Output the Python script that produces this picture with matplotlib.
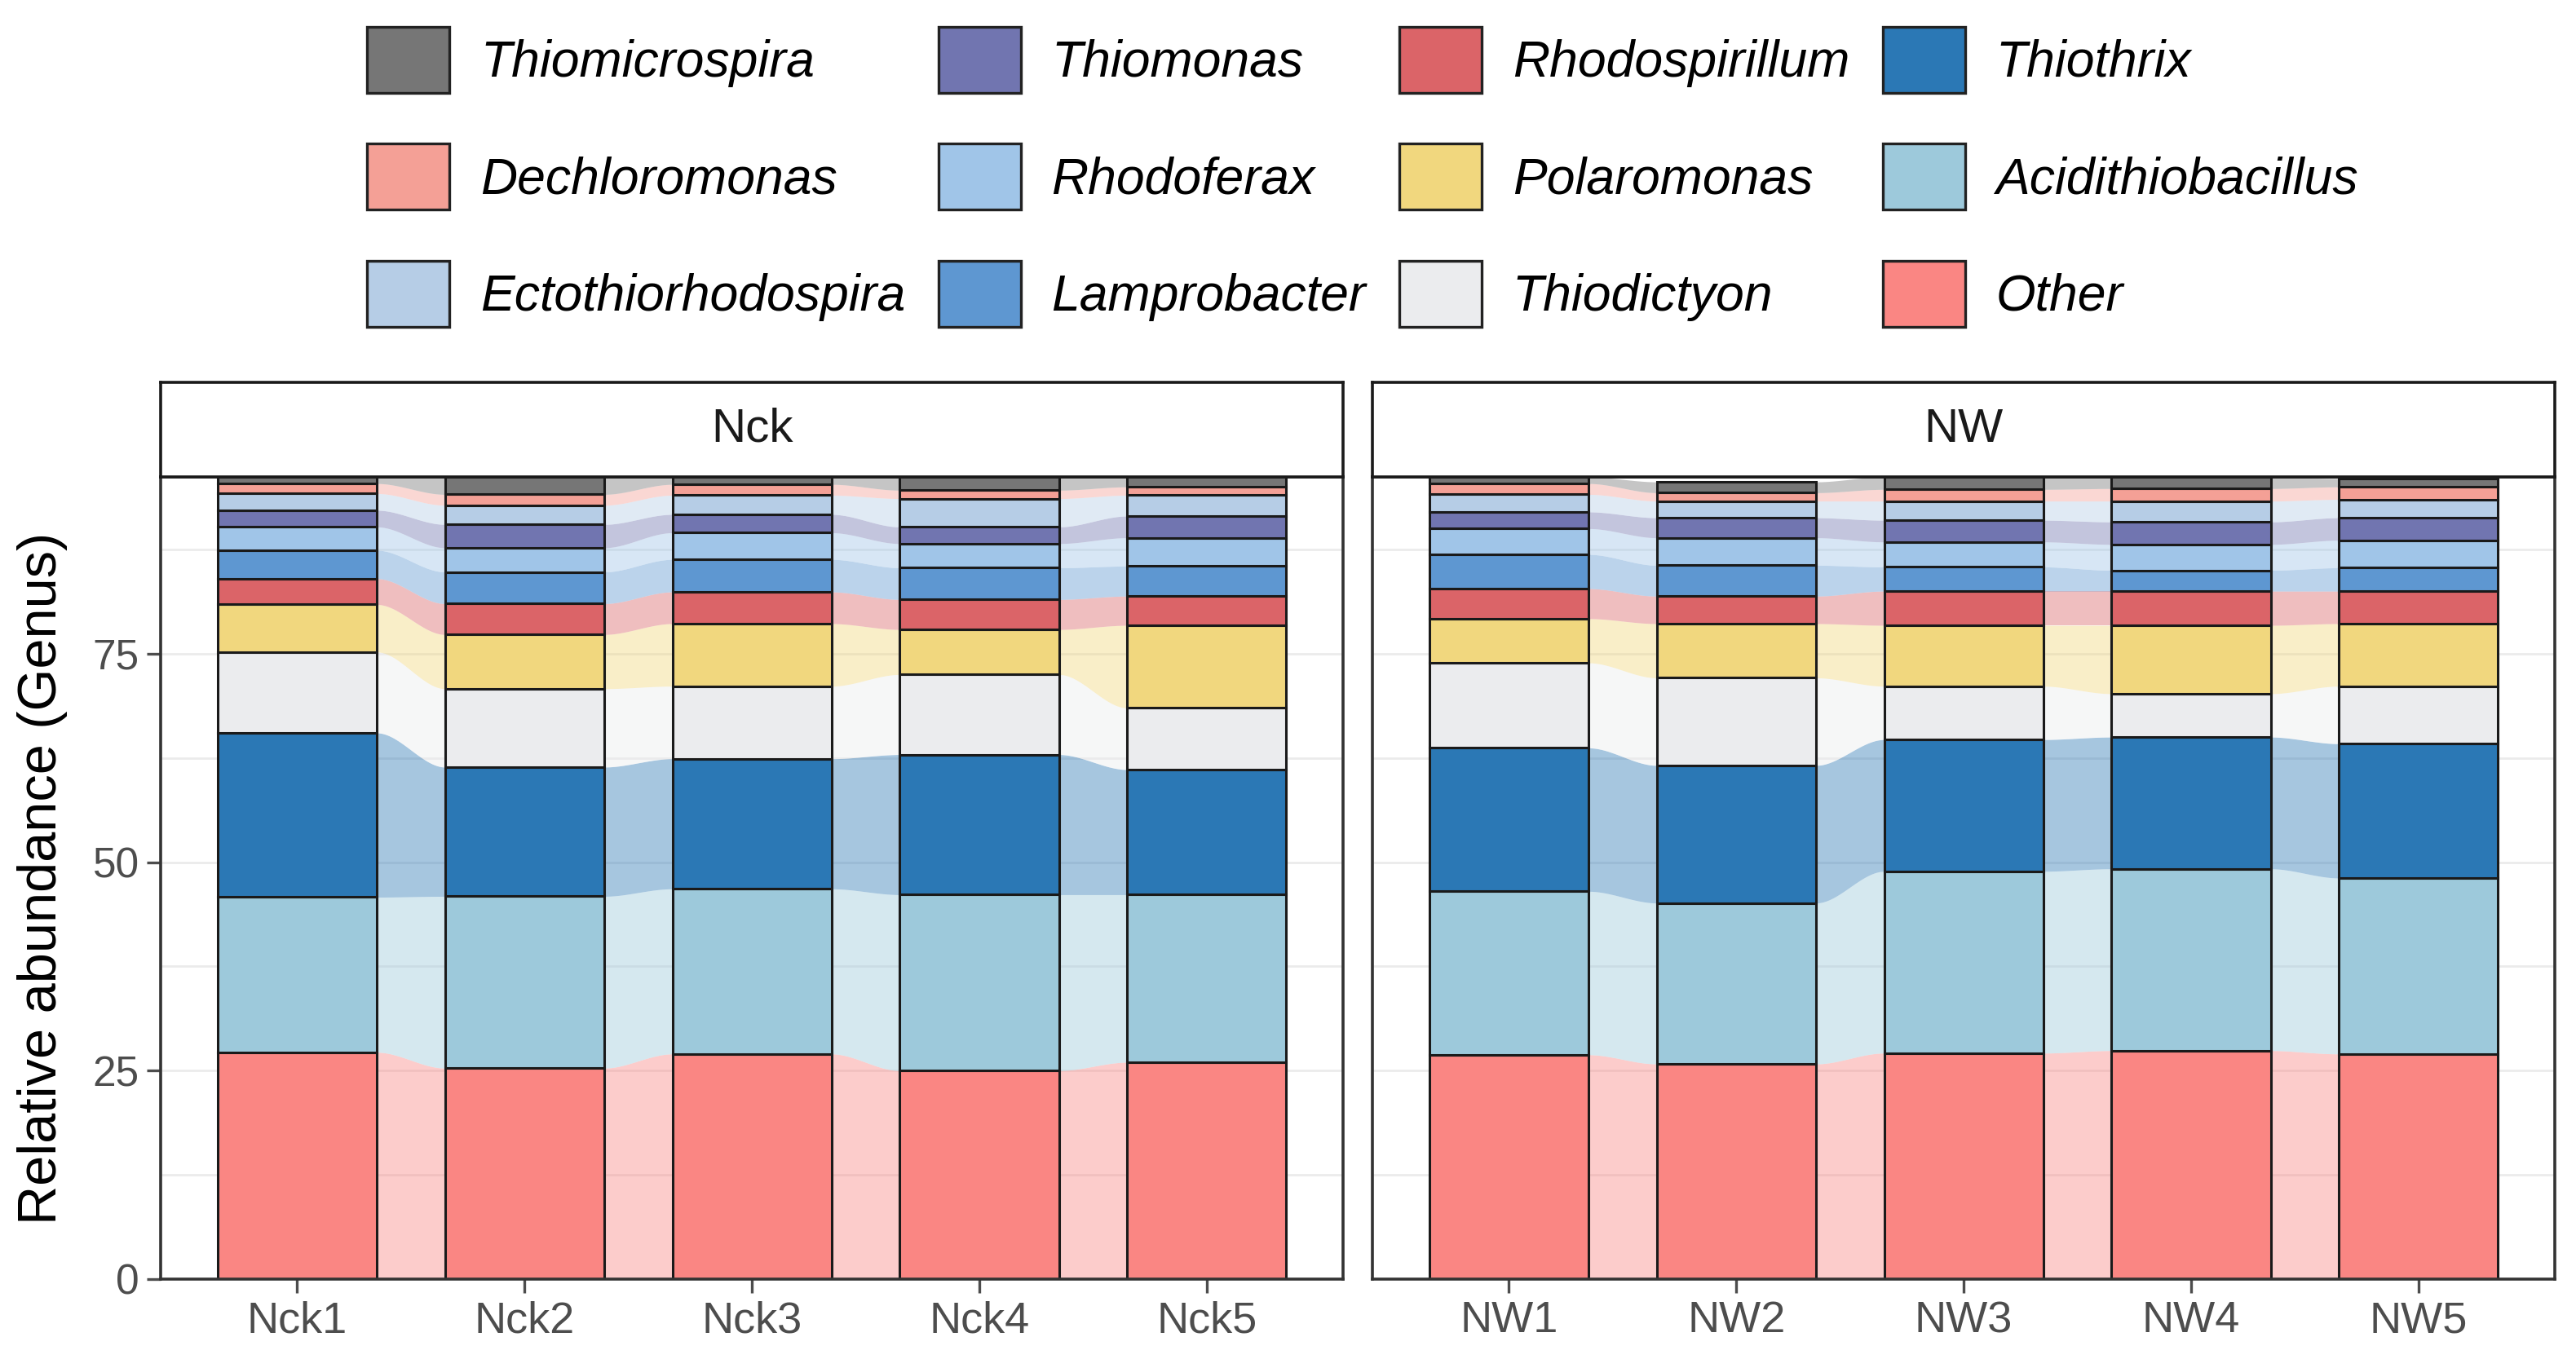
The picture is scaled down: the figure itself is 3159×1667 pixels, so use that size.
import numpy as np
import matplotlib.pyplot as plt
from matplotlib.patches import Patch

plt.rcParams['font.family'] = ['Liberation Sans', 'DejaVu Sans']

# genera, bottom of the stack first
genera = ['Other', 'Acidithiobacillus', 'Thiothrix', 'Thiodictyon', 'Polaromonas',
          'Rhodospirillum', 'Lamprobacter', 'Rhodoferax', 'Thiomonas',
          'Ectothiorhodospira', 'Dechloromonas', 'Thiomicrospira']

nck_samples = ['Nck1', 'Nck2', 'Nck3', 'Nck4', 'Nck5']
nw_samples = ['NW1', 'NW2', 'NW3', 'NW4', 'NW5']

# relative abundance (%) per sample, same order as genera
nck1 = [27.2, 18.6, 19.7, 9.7, 5.7, 3.1, 3.4, 2.8, 2.0, 2.0, 1.2, 0.8]
nck2 = [25.3, 20.6, 15.5, 9.4, 6.5, 3.7, 3.8, 2.9, 2.8, 2.3, 1.3, 2.1]
nck3 = [27.0, 19.8, 15.6, 8.7, 7.5, 3.8, 3.9, 3.2, 2.2, 2.3, 1.3, 0.9]
nck4 = [25.0, 21.1, 16.8, 9.6, 5.4, 3.6, 3.8, 2.9, 2.0, 3.4, 1.0, 1.6]
nck5 = [26.0, 20.1, 15.0, 7.4, 9.9, 3.5, 3.6, 3.4, 2.6, 2.5, 1.0, 1.2]

nw1 = [26.9, 19.6, 17.2, 10.2, 5.3, 3.6, 4.1, 3.1, 2.0, 2.1, 1.3, 0.8]
nw2 = [25.8, 19.3, 16.5, 10.5, 6.5, 3.3, 3.7, 3.3, 2.4, 2.0, 1.0, 1.3]
nw3 = [27.1, 21.8, 15.8, 6.4, 7.3, 4.1, 2.9, 3.0, 2.6, 2.3, 1.4, 1.5]
nw4 = [27.4, 21.8, 15.8, 5.2, 8.2, 4.1, 2.5, 3.1, 2.7, 2.5, 1.5, 1.4]
nw5 = [27.0, 21.1, 16.1, 6.9, 7.5, 3.9, 2.8, 3.3, 2.7, 2.2, 1.5, 1.0]

COLORS = {
    'Thiomicrospira': '#767676',
    'Dechloromonas': '#F4A096',
    'Ectothiorhodospira': '#B6CDE6',
    'Thiomonas': '#7175B0',
    'Rhodoferax': '#A0C5E8',
    'Lamprobacter': '#5E97D1',
    'Rhodospirillum': '#DB6468',
    'Polaromonas': '#F1D77E',
    'Thiodictyon': '#EBECEE',
    'Thiothrix': '#2B78B5',
    'Acidithiobacillus': '#9DC9DB',
    'Other': '#FA8683',
}

BAR_W = 0.7
EDGE = '#1A1A1A'
TICK_COLOR = '#4D4D4D'


def smooth(t):
    return t * t * (3 - 2 * t)


def draw_panel(ax, samples, values, ymax):
    vals = np.array(values)  # samples x genera
    tops = np.cumsum(vals, axis=1)
    bots = tops - vals
    x = np.arange(1, len(samples) + 1)

    # flows between neighbouring bars
    t = np.linspace(0, 1, 60)
    s = smooth(t)
    for k, g in enumerate(genera):
        for i in range(len(samples) - 1):
            xs = x[i] + BAR_W / 2 + t * (1 - BAR_W)
            lo = bots[i, k] + (bots[i + 1, k] - bots[i, k]) * s
            hi = tops[i, k] + (tops[i + 1, k] - tops[i, k]) * s
            ax.fill_between(xs, lo, hi, color=COLORS[g], alpha=0.42, lw=0, zorder=1)

    for k, g in enumerate(genera):
        ax.bar(x, vals[:, k], bottom=bots[:, k], width=BAR_W, color=COLORS[g],
               edgecolor=EDGE, linewidth=2.2, zorder=3)

    ax.set_xlim(0.4, len(samples) + 0.6)
    ax.set_ylim(0, ymax)
    ax.set_xticks(x)
    ax.set_xticklabels(samples)
    ax.set_yticks([0, 25, 50, 75])
    ax.set_yticks([12.5, 37.5, 62.5, 87.5], minor=True)
    ax.grid(True, which='both', axis='y', color='#EBEBEB', lw=2.0, zorder=0)
    ax.set_axisbelow(True)
    ax.tick_params(axis='x', which='major', labelsize=39)
    ax.tick_params(axis='y', which='major', labelsize=37)
    ax.tick_params(axis='both', which='major', colors=TICK_COLOR,
                   length=12, width=2.4, pad=7)
    ax.tick_params(axis='both', which='minor', length=0)
    for sp in ax.spines.values():
        sp.set_color('#333333')
        sp.set_linewidth(2.6)
        sp.set_zorder(5)


nck_vals = [nck1, nck2, nck3, nck4, nck5]
nw_vals = [nw1, nw2, nw3, nw4, nw5]
ymax = max(np.sum(nck_vals, axis=1).max(), np.sum(nw_vals, axis=1).max())

fig = plt.figure(figsize=(31.59, 16.67), dpi=100)
ax1 = fig.add_axes([0.0624, 0.0588, 0.459, 0.5903])
ax2 = fig.add_axes([0.5328, 0.0588, 0.459, 0.5903], sharey=ax1)
draw_panel(ax1, nck_samples, nck_vals, ymax)
draw_panel(ax2, nw_samples, nw_vals, ymax)
ax2.tick_params(axis='y', which='both', left=False, labelleft=False)
ax1.set_ylabel('Relative abundance (Genus)', fontsize=48, color='black')
ax1.yaxis.set_label_coords(-0.079, 0.5)

# facet strips
for ax, title in [(ax1, 'Nck'), (ax2, 'NW')]:
    pos = ax.get_position()
    strip = fig.add_axes([pos.x0, pos.y1, pos.width, 0.0696])
    strip.set_xticks([])
    strip.set_yticks([])
    for sp in strip.spines.values():
        sp.set_color('#1A1A1A')
        sp.set_linewidth(2.6)
    strip.text(0.5, 0.5, title, ha='center', va='center', fontsize=42, color='#1A1A1A')

# legend, filled column by column from the top of the stack
legend_order = genera[::-1]
handles = [Patch(facecolor=COLORS[g], edgecolor='#222222', linewidth=2.4) for g in legend_order]
fig.legend(handles, legend_order, loc='center', bbox_to_anchor=(0.529, 0.870), ncol=4,
           frameon=False, prop={'style': 'italic', 'size': 45},
           handlelength=1.62, handleheight=1.62, handletextpad=0.6,
           columnspacing=0.65, labelspacing=1.0)

fig.savefig('out.png', dpi=100)
